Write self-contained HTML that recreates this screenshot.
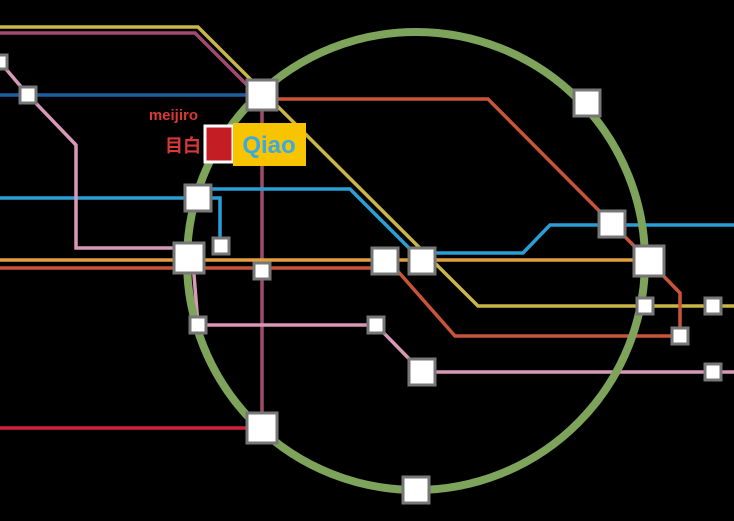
<!DOCTYPE html>
<html><head><style>
body{margin:0;background:#000;width:734px;height:516px;overflow:hidden}
</style></head><body>
<svg width="734" height="516" viewBox="0 0 734 516" xmlns="http://www.w3.org/2000/svg">
<rect width="734" height="516" fill="#000"/>
<g fill="none" stroke-width="3.5" stroke-linejoin="miter">
<polyline points="0,27 198,27 478,306 734,306" stroke="#c9b548"/>
<polyline points="0,33 195,33 255,93 262,100 262,428" stroke="#a04a70"/>
<polyline points="0,95 262,95" stroke="#1f5fa0"/>
<polyline points="262,99 488,99 649,261 680,293 680,336" stroke="#c8553a"/>
<polyline points="0,268 395,268 455,336 680,336" stroke="#c8553a"/>
<polyline points="0,198 220,198 220,246" stroke="#2a9fd6"/>
<polyline points="200,189 350,189 414,253 523,253 550,225 734,225" stroke="#2a9fd6"/>
<polyline points="0,260 649,260" stroke="#e0a040"/>
<polyline points="0,62 28,95 76,145 76,248 189,248" stroke="#d898b8"/>
<polyline points="193,262 198,325 376,325 422,372 734,372" stroke="#d898b8"/>
<polyline points="0,428 262,428" stroke="#d0203a"/>
</g>
<circle cx="416" cy="261" r="229" fill="none" stroke="#7ea35a" stroke-width="8"/>
<g fill="#fff" stroke="#777" stroke-width="3">
<rect x="-7" y="55" width="14" height="14"/>
<rect x="20" y="87" width="16" height="16"/>
<rect x="247" y="80" width="30" height="30"/>
<rect x="574" y="90" width="26" height="26"/>
<rect x="185" y="185" width="26" height="26"/>
<rect x="213" y="238" width="16" height="16"/>
<rect x="174" y="243" width="30" height="30"/>
<rect x="254" y="263" width="16" height="16"/>
<rect x="372" y="248" width="26" height="26"/>
<rect x="409" y="248" width="26" height="26"/>
<rect x="599" y="211" width="26" height="26"/>
<rect x="634" y="246" width="30" height="30"/>
<rect x="637" y="298" width="16" height="16"/>
<rect x="705" y="298" width="16" height="16"/>
<rect x="672" y="328" width="16" height="16"/>
<rect x="190" y="317" width="16" height="16"/>
<rect x="368" y="317" width="16" height="16"/>
<rect x="409" y="359" width="26" height="26"/>
<rect x="705" y="364" width="16" height="16"/>
<rect x="247" y="413" width="30" height="30"/>
<rect x="403" y="477" width="26" height="26"/>
</g>
<rect x="205" y="126" width="28" height="36" fill="#c41e24" stroke="#fff" stroke-width="3"/>
<rect x="233" y="123" width="73" height="43" fill="#f8c400"/>
<text x="269" y="153" font-family="Liberation Sans, sans-serif" font-weight="bold" font-size="24" fill="#3aaae0" text-anchor="middle">Qiao</text>
<text x="198" y="120" font-family="Liberation Sans, sans-serif" font-weight="bold" font-size="15" fill="#d83838" text-anchor="end">meijiro</text>
<text x="201" y="152" font-family="Liberation Sans, Noto Sans CJK JP, sans-serif" font-weight="bold" font-size="18" fill="#d83838" text-anchor="end">目白</text>
</svg>
</body></html>
